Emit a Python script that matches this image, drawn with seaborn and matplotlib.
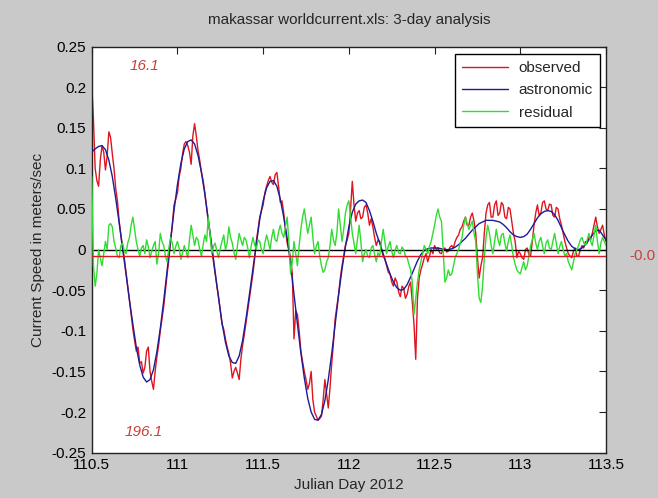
import numpy as np
import matplotlib
matplotlib.use("Agg")
import matplotlib.pyplot as plt
import seaborn as sns

# astronomic tide read every 0.02 day from 110.5 to 113.5
ASTRONOMIC = [
    0.120, 0.124, 0.127, 0.128, 0.123, 0.110, 0.090, 0.063, 0.033, 0.002,
    -0.030, -0.062, -0.092, -0.120, -0.142, -0.157, -0.163, -0.160, -0.148, -0.126,
    -0.097, -0.063, -0.025, 0.012, 0.048, 0.080, 0.106, 0.124, 0.133, 0.135,
    0.130, 0.116, 0.095, 0.068, 0.037, 0.005, -0.028, -0.060, -0.090, -0.114,
    -0.131, -0.139, -0.140, -0.131, -0.112, -0.085, -0.055, -0.024, 0.008, 0.037,
    0.060, 0.076, 0.084, 0.085, 0.078, 0.062, 0.040, 0.014, -0.018, -0.055,
    -0.092, -0.127, -0.158, -0.183, -0.200, -0.209, -0.210, -0.203, -0.186, -0.160,
    -0.128, -0.092, -0.056, -0.024, 0.004, 0.028, 0.046, 0.056, 0.060, 0.061,
    0.058, 0.048, 0.035, 0.020, 0.008, -0.005, -0.018, -0.030, -0.040, -0.047,
    -0.050, -0.049, -0.043, -0.034, -0.024, -0.014, -0.006, -0.001, 0.001, 0.002,
    0.002, 0.002, 0.001, 0.000, 0.000, 0.001, 0.003, 0.006, 0.010, 0.014,
    0.019, 0.024, 0.028, 0.032, 0.034, 0.036, 0.036, 0.036, 0.035, 0.034,
    0.031, 0.027, 0.022, 0.018, 0.016, 0.015, 0.016, 0.019, 0.025, 0.032,
    0.039, 0.044, 0.047, 0.048, 0.047, 0.043, 0.036, 0.027, 0.018, 0.010,
    0.004, 0.001, 0.000, 0.002, 0.006, 0.012, 0.018, 0.023, 0.024, 0.018,
    0.012,
]

# observed current, every 0.01 day (one row = 0.1 day)
OBSERVED = [
    0.205, 0.160, 0.100, 0.085, 0.078, 0.110, 0.128, 0.120, 0.098, 0.115,
    0.145, 0.138, 0.118, 0.100, 0.075, 0.060, 0.035, 0.018, 0.002, -0.010,
    -0.028, -0.045, -0.062, -0.080, -0.098, -0.112, -0.125, -0.120, -0.140, -0.138,
    -0.152, -0.145, -0.125, -0.120, -0.150, -0.162, -0.172, -0.150, -0.132, -0.118,
    -0.100, -0.085, -0.070, -0.050, -0.030, -0.012, 0.010, 0.030, 0.055, 0.062,
    0.070, 0.090, 0.100, 0.118, 0.130, 0.133, 0.128, 0.120, 0.105, 0.140,
    0.155, 0.140, 0.122, 0.110, 0.095, 0.085, 0.070, 0.052, 0.035, 0.020,
    0.002, -0.015, -0.030, -0.045, -0.058, -0.075, -0.092, -0.098, -0.110, -0.120,
    -0.128, -0.140, -0.158, -0.150, -0.145, -0.152, -0.160, -0.135, -0.118, -0.105,
    -0.090, -0.075, -0.060, -0.045, -0.030, -0.012, 0.010, 0.025, 0.040, 0.048,
    0.055, 0.070, 0.078, 0.085, 0.090, 0.083, 0.080, 0.092, 0.095, 0.078,
    0.058, 0.060, 0.045, 0.025, 0.008, 0.000, -0.010, -0.030, -0.110, -0.075,
    -0.080, -0.100, -0.125, -0.138, -0.150, -0.160, -0.172, -0.165, -0.150, -0.185,
    -0.200, -0.205, -0.210, -0.208, -0.205, -0.185, -0.160, -0.178, -0.195, -0.170,
    -0.140, -0.115, -0.085, -0.070, -0.055, -0.035, -0.020, -0.008, 0.005, 0.012,
    0.020, 0.050, 0.084, 0.055, 0.035, 0.045, 0.048, 0.038, 0.040, 0.052,
    0.055, 0.045, 0.030, 0.038, 0.028, 0.015, 0.005, 0.012, 0.010, 0.000,
    -0.008, -0.012, -0.020, -0.028, -0.030, -0.040, -0.045, -0.035, -0.040, -0.052,
    -0.058, -0.045, -0.048, -0.060, -0.055, -0.045, -0.040, -0.065, -0.092, -0.135,
    -0.060, -0.035, -0.025, -0.018, -0.010, -0.005, -0.015, -0.008, 0.000, -0.005,
    0.005, 0.000, 0.002, -0.004, -0.005, 0.000, 0.002, -0.003, -0.002, 0.003,
    0.005, 0.002, 0.010, 0.015, 0.018, 0.025, 0.028, 0.035, 0.040, 0.030,
    0.030, 0.040, 0.045, 0.035, 0.020, -0.010, -0.035, -0.020, -0.010, 0.020,
    0.045, 0.055, 0.058, 0.040, 0.040, 0.055, 0.060, 0.042, 0.045, 0.058,
    0.055, 0.040, 0.038, 0.052, 0.050, 0.035, 0.020, 0.010, -0.010, -0.002,
    -0.005, -0.010, -0.012, 0.000, 0.002, -0.006, -0.008, 0.010, 0.030, 0.045,
    0.055, 0.042, 0.045, 0.058, 0.060, 0.050, 0.048, 0.056, 0.055, 0.042,
    0.040, 0.052, 0.050, 0.038, 0.030, 0.020, 0.010, 0.002, -0.005, -0.008,
    -0.010, -0.002, 0.002, -0.008, -0.008, 0.000, 0.005, 0.002, 0.010, 0.008,
    0.015, 0.012, 0.020, 0.030, 0.040, 0.028, 0.020, 0.025, 0.030, 0.018,
    0.010,
]

# residual, every 0.01 day
RESIDUAL = [
    0.090, -0.020, -0.045, -0.030, 0.000, -0.010, -0.020, -0.005, 0.010, 0.000,
    0.030, 0.032, 0.028, 0.010, 0.002, -0.008, -0.010, 0.005, 0.008, -0.002,
    -0.005, 0.008, 0.015, 0.030, 0.040, 0.025, 0.010, 0.000, -0.008, 0.002,
    0.005, -0.005, 0.012, 0.004, -0.010, -0.002, 0.005, 0.010, -0.018, -0.005,
    0.020, 0.010, 0.005, -0.008, -0.015, 0.002, 0.015, 0.008, -0.005, 0.004,
    0.010, 0.002, -0.012, -0.004, 0.005, -0.002, -0.010, 0.012, 0.030, 0.018,
    0.005, 0.015, 0.012, 0.000, -0.008, 0.006, 0.018, 0.010, 0.040, 0.020,
    -0.005, 0.004, 0.008, -0.002, -0.010, 0.002, 0.010, 0.018, 0.000, 0.008,
    0.028, 0.015, 0.008, -0.004, -0.012, 0.005, 0.020, 0.012, 0.005, 0.015,
    0.012, 0.002, -0.010, 0.004, 0.015, 0.006, 0.000, 0.012, 0.010, 0.000,
    -0.005, 0.008, 0.018, 0.010, 0.000, 0.015, 0.025, 0.012, 0.010, 0.022,
    0.030, 0.020, 0.015, 0.028, 0.040, 0.010, -0.030, -0.015, 0.010, -0.005,
    -0.020, 0.005, 0.025, 0.040, 0.050, 0.035, 0.020, 0.030, 0.040, 0.015,
    -0.005, 0.004, 0.010, -0.008, -0.020, -0.028, -0.025, -0.015, -0.010, 0.005,
    0.025, 0.012, 0.005, 0.020, 0.050, 0.030, 0.010, 0.025, 0.045, 0.055,
    0.060, 0.040, 0.020, 0.008, -0.005, 0.012, 0.030, 0.010, -0.015, -0.005,
    0.000, -0.008, -0.010, 0.002, 0.005, -0.006, -0.015, -0.004, -0.008, 0.010,
    0.025, 0.010, -0.005, 0.004, 0.010, -0.002, -0.010, 0.000, 0.005, -0.004,
    -0.005, 0.003, 0.000, -0.008, -0.010, -0.018, -0.025, -0.040, -0.080, -0.060,
    -0.040, -0.025, -0.015, -0.005, 0.005, 0.000, -0.005, 0.004, 0.010, 0.020,
    0.030, 0.042, 0.050, 0.040, 0.035, 0.000, -0.040, -0.035, -0.025, -0.032,
    -0.030, -0.020, -0.010, -0.005, 0.000, 0.008, 0.015, 0.030, 0.040, 0.032,
    0.025, 0.030, 0.035, 0.020, 0.010, -0.030, -0.060, -0.065, -0.045, -0.010,
    0.015, 0.030, 0.020, 0.005, -0.005, 0.010, 0.025, 0.012, 0.005, 0.018,
    0.020, 0.008, -0.002, 0.010, 0.018, 0.005, -0.010, -0.018, -0.025, -0.028,
    -0.030, -0.022, -0.015, -0.025, -0.020, -0.008, 0.005, 0.012, 0.020, 0.008,
    0.000, 0.010, 0.015, 0.004, -0.005, 0.008, 0.012, 0.002, 0.000, 0.010,
    0.020, 0.008, -0.005, 0.004, 0.010, 0.000, -0.008, -0.005, -0.015, -0.020,
    -0.025, -0.015, -0.005, 0.000, 0.005, 0.012, 0.015, 0.008, 0.005, 0.012,
    0.020, 0.010, 0.005, 0.018, 0.030, 0.010, -0.005, 0.008, 0.015, 0.010,
    0.005,
]

MEAN_LEVEL = -0.008
START_DAY, END_DAY = 110.5, 113.5
X_TICKS = [110.5, 111, 111.5, 112, 112.5, 113, 113.5]
X_TICK_LABELS = ["110.5", "111", "111.5", "112", "112.5", "113", "113.5"]
Y_TICKS = [0.25, 0.2, 0.15, 0.1, 0.05, 0, -0.05, -0.1, -0.15, -0.2, -0.25]
Y_TICK_LABELS = ["0.25", "0.2", "0.15", "0.1", "0.05", "0",
                 "-0.05", "-0.1", "-0.15", "-0.2", "-0.25"]

RED = "#e0141e"
BLUE = "#1c1c96"
GREEN = "#30dc30"
NOTE_RED = "#c8403c"


def days(series):
    return np.linspace(START_DAY, END_DAY, len(series))


def main():
    sns.set_style("white")
    plt.rcParams["font.family"] = ["Liberation Sans", "DejaVu Sans"]
    plt.rcParams["xtick.direction"] = "in"
    plt.rcParams["ytick.direction"] = "in"

    fig = plt.figure(figsize=(6.58, 4.98), dpi=100, facecolor="#c9c9c9")
    ax = fig.add_axes([0.1394, 0.0910, 0.7816, 0.8156])
    ax.set_facecolor("white")

    sns.lineplot(x=days(OBSERVED), y=OBSERVED, color=RED, lw=1.0,
                 label="observed", ax=ax, zorder=2)
    sns.lineplot(x=days(ASTRONOMIC), y=ASTRONOMIC, color=BLUE, lw=1.0,
                 label="astronomic", ax=ax, zorder=3)
    ax.axhline(0, color="black", lw=1.0, zorder=3.5)
    sns.lineplot(x=days(RESIDUAL), y=RESIDUAL, color=GREEN, lw=1.0,
                 label="residual", ax=ax, zorder=4)
    ax.axhline(MEAN_LEVEL, color=RED, lw=1.0, zorder=5)

    ax.set_xlim(START_DAY, END_DAY)
    ax.set_ylim(-0.25, 0.25)
    ax.set_xticks(X_TICKS)
    ax.set_xticklabels(X_TICK_LABELS)
    ax.set_yticks(Y_TICKS)
    ax.set_yticklabels(Y_TICK_LABELS)
    ax.tick_params(axis="both", labelsize=11, length=5, width=0.8, pad=4,
                   top=True, right=True, colors="#222222", labelcolor="black")
    for spine in ax.spines.values():
        spine.set_visible(True)
        spine.set_color("#222222")
        spine.set_linewidth(1.0)

    ax.set_title("makassar worldcurrent.xls: 3-day analysis", fontsize=11, pad=16)
    ax.set_xlabel("Julian Day 2012", fontsize=11, labelpad=4)
    ax.set_ylabel("Current Speed in meters/sec", fontsize=11, labelpad=5)

    ax.text(110.723, 0.2254, "16.1", color=NOTE_RED, fontsize=11,
            style="italic", ha="left", va="center")
    ax.text(110.694, -0.224, "196.1", color=NOTE_RED, fontsize=11,
            style="italic", ha="left", va="center")
    ax.text(113.635, MEAN_LEVEL, "-0.0", color=NOTE_RED, fontsize=11,
            ha="left", va="center", clip_on=False)

    leg = ax.legend(loc="upper right", bbox_to_anchor=(0.988, 0.9815),
                    borderaxespad=0, fontsize=11, handlelength=3.0,
                    labelspacing=0.55, borderpad=0.45, handletextpad=0.7,
                    fancybox=False, framealpha=1, edgecolor="black")
    leg.get_frame().set_linewidth(1.0)

    fig.savefig("out.png", dpi=100, facecolor=fig.get_facecolor())
    plt.close(fig)


if __name__ == "__main__":
    main()
